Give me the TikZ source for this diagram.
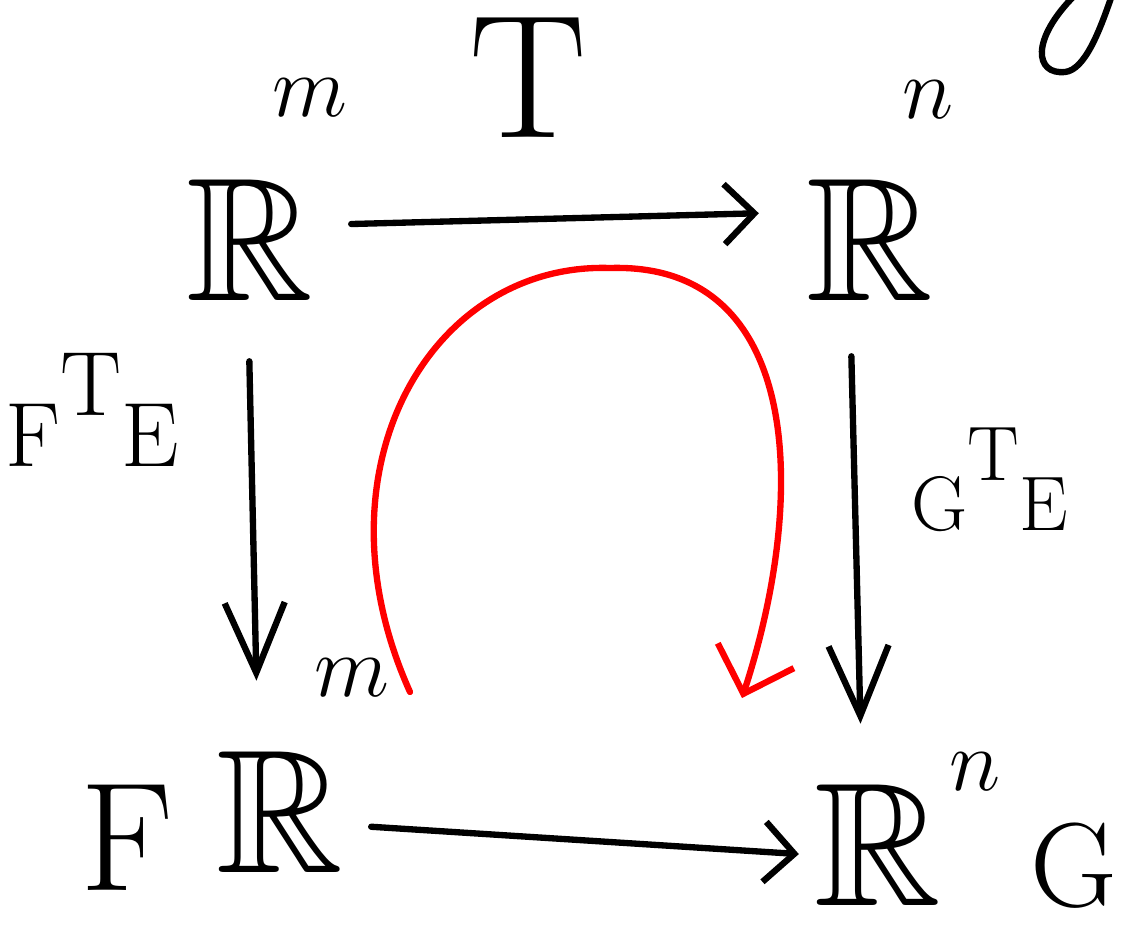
\documentclass[tikz,border=0pt]{standalone}
\usepackage{fontspec}
\usepackage{amssymb}
\usetikzlibrary{arrows.meta}
\tikzset{
  space/.style={inner sep=0pt,font=\fontsize{50}{60}\selectfont},
  sup/.style={inner sep=0pt,font=\fontsize{32}{38}\selectfont},
  maplbl/.style={inner sep=0pt,font=\fontsize{26}{32}\selectfont},
  pen/.style={line width=1.8pt,line cap=round,line join=round},
  harrow/.style={pen,-{Straight Barb[length=3mm,width=6mm]}},
  varrow/.style={pen,-{Straight Barb[length=7mm,width=6mm]}},
  redarrow/.style={pen,red,-{Straight Barb[length=4mm,width=8mm]}}
}
\begin{document}
\begin{tikzpicture}[x=0.01cm,y=-0.01cm]
  \clip (0,0) rectangle (1140,927);
  % the four spaces
  \node[space] (RA) at (250,240) {$\mathbb{R}$};
  \node[space] (RB) at (870,240) {$\mathbb{R}$};
  \node[space] (RC) at (280,812) {$\mathbb{R}$};
  \node[space] (RD) at (878,845) {$\mathbb{R}$};
  \node[sup] (supA) at (310,98) {$m$};
  \node[sup] (supB) at (928,100) {$n$};
  \node[sup] (supC) at (352,678) {$m$};
  \node[sup] (supD) at (975,772) {$n$};
  % maps
  \node[space] (mapT) at (528,78) {T};
  \node[maplbl] (mapF) at (92,410) {F\raisebox{1.3ex}{T}E};
  \node[maplbl,font=\fontsize{22}{26}\selectfont] (mapG) at (990,480) {G\raisebox{1.5ex}{T}E};
  \node[space,font=\fontsize{44}{50}\selectfont] (baseF) at (127,838) {F};
  \node[space,font=\fontsize{34}{40}\selectfont,anchor=east] (baseG) at (1118,866) {G};
  \draw[harrow,shorten <=0.37cm,shorten >=0.47cm] ([yshift=0.15cm]RA.east) -- ([yshift=0.28cm]RB.west);
  \draw[harrow,shorten <=0.27cm,shorten >=0.15cm] ([yshift=-0.13cm]RC.east) -- ([yshift=-0.1cm]RD.west);
  \draw[varrow,shorten <=0.6cm,shorten >=0.7cm] ([xshift=-0.02cm]RA.south) -- ([xshift=-0.22cm]RC.north);
  \draw[varrow,shorten <=0.55cm,shorten >=0.6cm] ([xshift=-0.2cm]RB.south) -- ([xshift=-0.16cm]RD.north);
  % red loop
  \coordinate (redstart) at (410,692);
  \coordinate (redtop) at (610,268);
  \coordinate (redend) at (742,698);
  \draw[redarrow] (redstart) .. controls (310,470) and (430,262) .. (redtop)
    .. controls (800,262) and (810,490) .. (redend);
  % cut-off stroke at the corner
  \draw[pen] (1075,-5) .. controls (1030,40) and (1035,75) .. (1065,72)
    .. controls (1085,70) and (1100,30) .. (1112,-5);
\end{tikzpicture}
\end{document}
